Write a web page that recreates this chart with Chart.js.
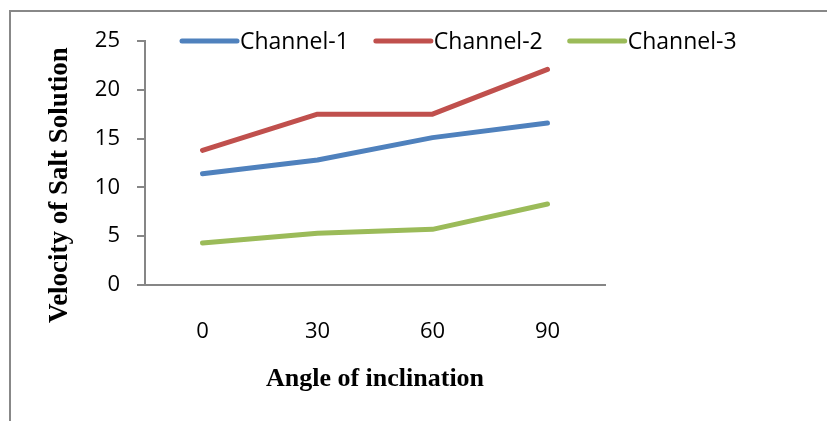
<!DOCTYPE html>
<html>
<head>
<meta charset="utf-8">
<script src="https://cdn.jsdelivr.net/npm/chart.js@4.4.1/dist/chart.umd.min.js"></script>
<style>
    html, body { margin: 0; padding: 0; background: #fff; }
    #wrap { position: relative; width: 827px; height: 421px; overflow: hidden; }
    #frame {
        position: absolute; left: 9px; top: 10px; width: 900px; height: 500px;
        border-left: 2px solid #888; border-top: 2px solid #888;
    }
    #velocityChart { position: absolute; left: 0; top: 0; }
</style>
</head>
<body>
<div id="wrap">
    <div id="frame"></div>
    <canvas id="velocityChart" width="827" height="421"></canvas>
</div>
<script>
const angles = ["0", "30", "60", "90"];
const channel1 = [11.4, 12.8, 15.1, 16.6];
const channel2 = [13.8, 17.5, 17.5, 22.1];
const channel3 = [4.3, 5.3, 5.7, 8.3];
const yTicks = [0, 5, 10, 15, 20, 25];

const axisGray = "#868686";
const tickFont = { family: "'Open Sans'", size: 22 };

// legend drawn on one row above the plot, like the Excel original
const rowLegend = {
    id: "rowLegend",
    afterDraw(chart) {
        const ctx = chart.ctx;
        let x = 182;
        const y = 41;
        ctx.save();
        ctx.font = "23px 'Open Sans'";
        ctx.textBaseline = "middle";
        chart.data.datasets.forEach(ds => {
            ctx.strokeStyle = ds.borderColor;
            ctx.lineWidth = 5;
            ctx.lineCap = "round";
            ctx.beginPath();
            ctx.moveTo(x, y);
            ctx.lineTo(x + 55, y);
            ctx.stroke();
            ctx.fillStyle = "#000";
            ctx.fillText(ds.label, x + 58, y + 1);
            x += 58 + ctx.measureText(ds.label).width + 27;
        });
        ctx.restore();
    }
};

// rotated y title, centred on the whole chart height
const yTitle = {
    id: "yTitle",
    afterDraw(chart) {
        const ctx = chart.ctx;
        ctx.save();
        ctx.translate(67, 185);
        ctx.rotate(-Math.PI / 2);
        ctx.font = "bold 27px 'Liberation Serif'";
        ctx.fillStyle = "#000";
        ctx.textAlign = "center";
        ctx.textBaseline = "alphabetic";
        ctx.fillText("Velocity of Salt Solution", 0, 0);
        ctx.restore();
    }
};

new Chart(document.getElementById("velocityChart"), {
    type: "line",
    data: {
        labels: angles,
        datasets: [
            { label: "Channel-1", data: channel1, borderColor: "#4F81BD" },
            { label: "Channel-2", data: channel2, borderColor: "#C0504D" },
            { label: "Channel-3", data: channel3, borderColor: "#9BBB59" }
        ]
    },
    options: {
        responsive: false,
        animation: false,
        devicePixelRatio: 1,
        layout: { padding: { left: 10, top: 41, right: 222, bottom: 0 } },
        elements: {
            line: { borderWidth: 5, tension: 0, borderCapStyle: "round", borderJoinStyle: "round" },
            point: { radius: 0, hoverRadius: 0 }
        },
        plugins: {
            legend: { display: false },
            tooltip: { enabled: false }
        },
        scales: {
            x: {
                offset: true,
                grid: { display: false },
                border: { display: true, color: axisGray, width: 2 },
                ticks: { color: "#000", font: tickFont, padding: 26, maxRotation: 0 },
                title: {
                    display: true,
                    text: "Angle of inclination",
                    color: "#000",
                    font: { family: "'Liberation Serif'", size: 26, weight: "bold" },
                    padding: { top: 0, bottom: 26 }
                },
                afterFit(scale) { scale.height = 421 - 285; }
            },
            y: {
                min: 0,
                max: 25,
                afterBuildTicks(scale) { scale.ticks = yTicks.map(v => ({ value: v })); },
                grid: {
                    drawOnChartArea: false,
                    drawTicks: true,
                    tickLength: 8,
                    color: axisGray,
                    lineWidth: 2
                },
                border: { display: true, color: axisGray, width: 2 },
                ticks: { color: "#000", font: tickFont, padding: 17 },
                afterFit(scale) { scale.width = 145 - 10; }
            }
        }
    },
    plugins: [rowLegend, yTitle]
});
</script>
</body>
</html>
